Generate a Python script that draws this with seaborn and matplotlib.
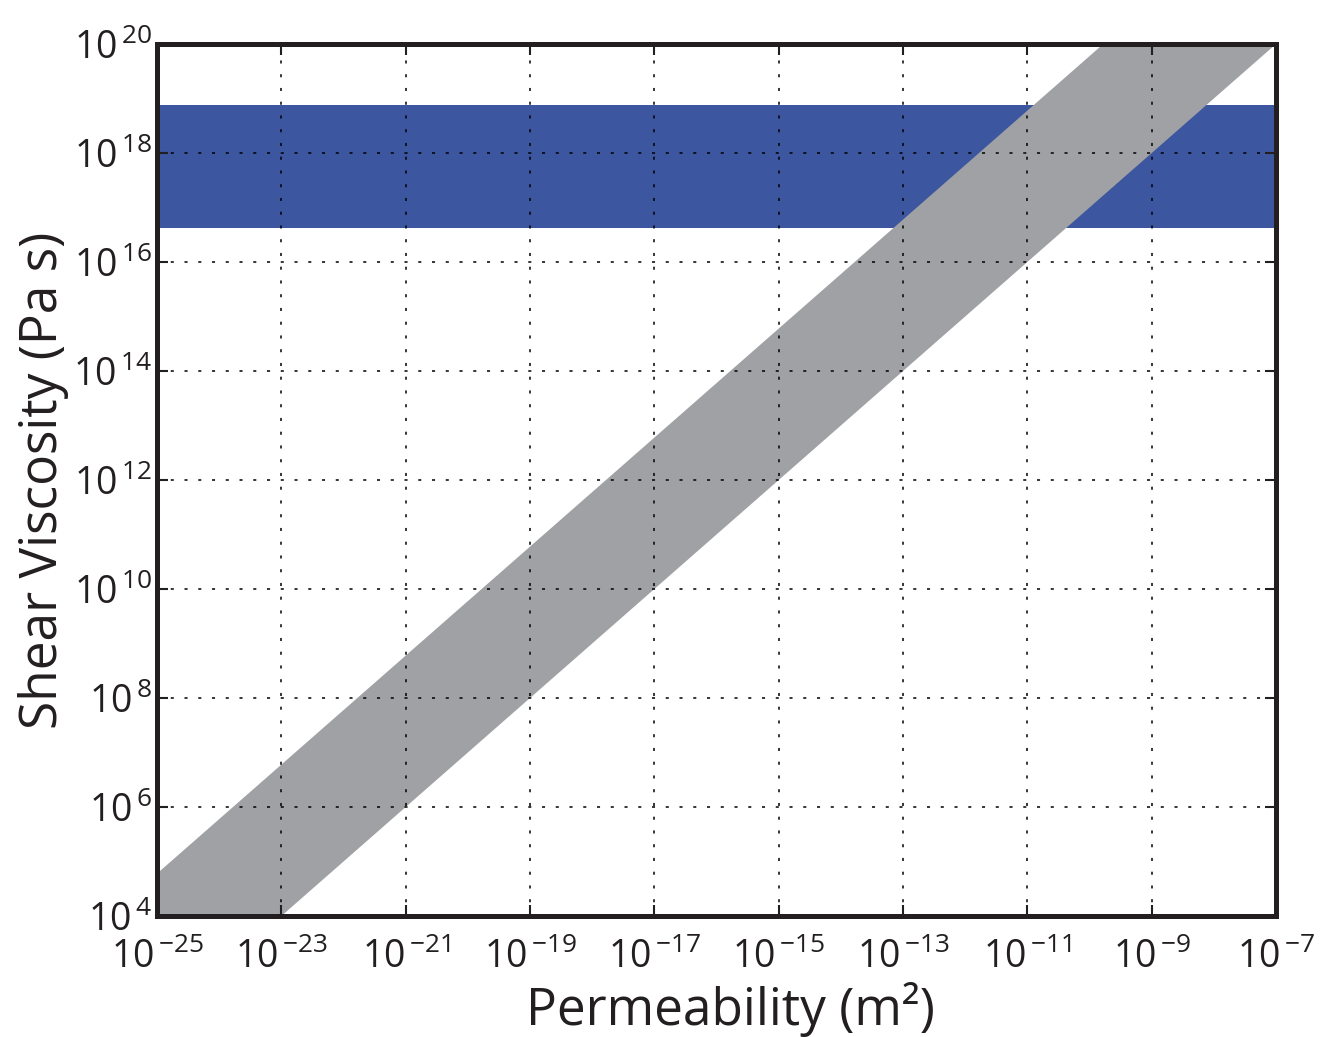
import numpy as np
import matplotlib
matplotlib.use("Agg")
import matplotlib.pyplot as plt
import seaborn as sns
from matplotlib.ticker import FuncFormatter, NullLocator

# Permeability range (m^2) and the band of effective shear viscosity (Pa s)
permeability = [1e-25, 1e-7]
viscosity_low = [1e2, 1e20]
viscosity_high = [6e4, 6e22]

# Horizontal band of viscosity values
band_low = 4.2e16
band_high = 7.6e18

x_ticks = [1e-25, 1e-23, 1e-21, 1e-19, 1e-17, 1e-15, 1e-13, 1e-11, 1e-9, 1e-7]
y_ticks = [1e4, 1e6, 1e8, 1e10, 1e12, 1e14, 1e16, 1e18, 1e20]

sns.set_style("white")
plt.rcParams["font.family"] = ["Open Sans", "DejaVu Sans"]
plt.rcParams["mathtext.fontset"] = "custom"
plt.rcParams["mathtext.rm"] = "Open Sans"
plt.rcParams["mathtext.it"] = "Open Sans:italic"
plt.rcParams["mathtext.bf"] = "Open Sans:bold"

fig = plt.figure(figsize=(13.39, 10.37), dpi=100)
ax = fig.add_axes([0.1173, 0.1167, 0.8357, 0.8409])

df = {"k": permeability, "lo": viscosity_low, "hi": viscosity_high}
ax.axhspan(band_low, band_high, color="#3d56a0", lw=0, zorder=1)
ax.fill_between(df["k"], df["lo"], df["hi"], color="#a0a1a4", lw=0, zorder=2)
sns.lineplot(x=df["k"], y=df["lo"], ax=ax, color="#a0a1a4", lw=0, zorder=2)

ax.set_xscale("log")
ax.set_yscale("log")
ax.set_xlim(1e-25, 1e-7)
ax.set_ylim(1e4, 1e20)

ax.set_xticks(x_ticks)
ax.set_yticks(y_ticks)
ax.xaxis.set_minor_locator(NullLocator())
ax.yaxis.set_minor_locator(NullLocator())


def fmt(v, pos):
    e = int(round(np.log10(v)))
    return r"$\mathdefault{10^{\,{%s}}}$" % (("\u2212%d" % -e) if e < 0 else "%d" % e)


ax.xaxis.set_major_formatter(FuncFormatter(fmt))
ax.yaxis.set_major_formatter(FuncFormatter(fmt))

ax.grid(True, which="major", color="black", linestyle=(0, (2, 7)), linewidth=1.1, zorder=3)
ax.set_axisbelow(False)

for s in ax.spines.values():
    s.set_visible(True)
    s.set_color("#231f20")
    s.set_linewidth(3.6)
    s.set_zorder(5)

ax.tick_params(which="major", direction="in", length=8, width=1.5, color="#231f20",
               top=True, right=True, bottom=True, left=True,
               labelsize=27, labelcolor="#231f20")
ax.tick_params(axis="x", pad=16)
ax.tick_params(axis="y", pad=4)

ax.set_xlabel("Permeability (m\u00b2)", fontsize=37, color="#231f20")
ax.set_ylabel("Shear Viscosity (Pa s)", fontsize=37, color="#231f20")
ax.xaxis.set_label_coords(0.512, -0.076)
ax.yaxis.set_label_coords(-0.079, 0.5)

fig.savefig("out.png", dpi=100)
